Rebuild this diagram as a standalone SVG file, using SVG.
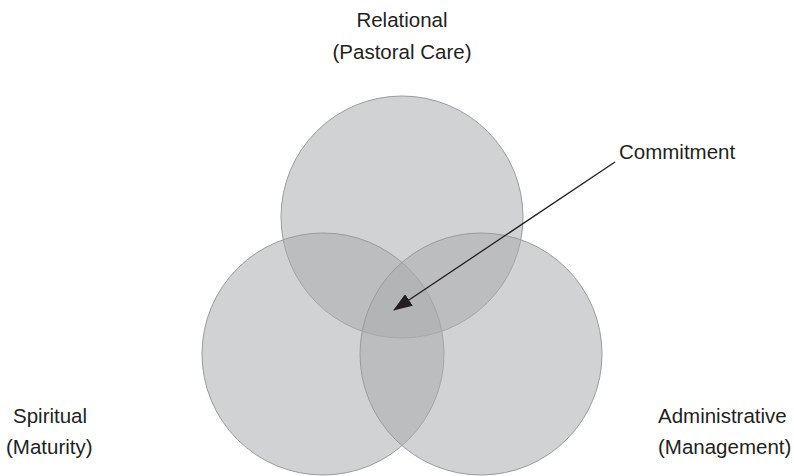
<svg xmlns="http://www.w3.org/2000/svg" width="794" height="476" viewBox="0 0 794 476">
<style>
.c{fill:#aaabae;fill-opacity:0.54;stroke:#9a9b9e;stroke-width:1}
.t{font-family:"Liberation Sans",Arial,sans-serif;font-size:20.5px;fill:#231f20}
</style>
<defs>
<marker id="ah" markerWidth="20" markerHeight="14" refX="18" refY="7" orient="auto" markerUnits="userSpaceOnUse">
<path d="M0,0 L19,7 L0,14 Z" fill="#231f20"/>
</marker>
</defs>
<rect width="794" height="476" fill="#fff"/>
<g id="relational">
<circle class="c" cx="402" cy="217" r="121"/>
<text class="t" x="402" y="27" text-anchor="middle">Relational</text>
<text class="t" x="402" y="59" text-anchor="middle">(Pastoral Care)</text>
</g>
<g id="spiritual">
<circle class="c" cx="323" cy="354" r="121"/>
<text class="t" x="13" y="423">Spiritual</text>
<text class="t" x="6" y="454">(Maturity)</text>
</g>
<g id="administrative">
<circle class="c" cx="481" cy="354" r="121"/>
<text class="t" x="658" y="423">Administrative</text>
<text class="t" x="658" y="454">(Management)</text>
</g>
<g id="commitment">
<text class="t" x="619" y="159">Commitment</text>
</g>
<g id="connectors">
<line x1="615" y1="162" x2="394" y2="310" stroke="#231f20" stroke-width="1.3" marker-end="url(#ah)"/>
</g>
</svg>
